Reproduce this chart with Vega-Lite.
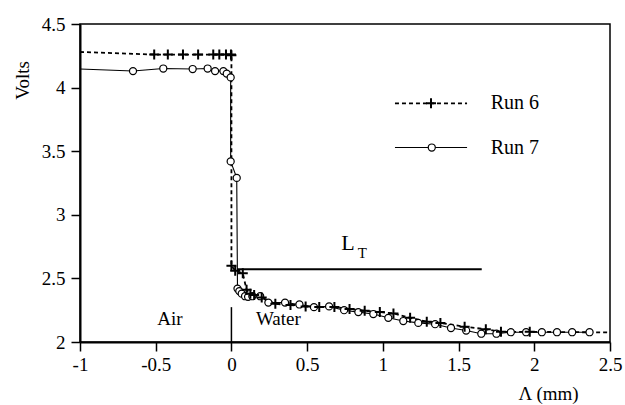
{
  "$schema": "https://vega.github.io/schema/vega-lite/v6.json",
  "autosize": "none",
  "width": 530,
  "height": 318,
  "padding": {"left": 80, "top": 24, "right": 15, "bottom": 63},
  "background": "white",
  "config": {
    "view": {"stroke": "black", "strokeWidth": 1.5},
    "font": "Times New Roman, Liberation Serif, serif",
    "axis": {"grid": false, "domainColor": "black", "domainWidth": 2, "tickColor": "black", "tickWidth": 1.5, "tickSize": 9, "labelColor": "black", "labelFont": "Times New Roman, Liberation Serif, serif", "labelFontSize": 19, "titleFont": "Times New Roman, Liberation Serif, serif", "titleFontSize": 19, "titleFontWeight": "normal", "titleColor": "black"}
  },
  "datasets": {
    "d": [
      {"run": "Run 6", "i": 0, "x": -1, "y": 4.28, "m": 0},
      {"run": "Run 6", "i": 1, "x": -0.51, "y": 4.26, "m": 1},
      {"run": "Run 6", "i": 2, "x": -0.42, "y": 4.26, "m": 1},
      {"run": "Run 6", "i": 3, "x": -0.32, "y": 4.26, "m": 1},
      {"run": "Run 6", "i": 4, "x": -0.22, "y": 4.26, "m": 1},
      {"run": "Run 6", "i": 5, "x": -0.12, "y": 4.26, "m": 1},
      {"run": "Run 6", "i": 6, "x": -0.08, "y": 4.26, "m": 1},
      {"run": "Run 6", "i": 7, "x": -0.036, "y": 4.26, "m": 1},
      {"run": "Run 6", "i": 8, "x": -0.003, "y": 4.26, "m": 1},
      {"run": "Run 6", "i": 9, "x": 0, "y": 4.255, "m": 1},
      {"run": "Run 6", "i": 10, "x": 0, "y": 2.6, "m": 1},
      {"run": "Run 6", "i": 11, "x": 0.025, "y": 2.56, "m": 1},
      {"run": "Run 6", "i": 12, "x": 0.075, "y": 2.54, "m": 1},
      {"run": "Run 6", "i": 13, "x": 0.1, "y": 2.41, "m": 1},
      {"run": "Run 6", "i": 14, "x": 0.125, "y": 2.38, "m": 1},
      {"run": "Run 6", "i": 15, "x": 0.15, "y": 2.37, "m": 1},
      {"run": "Run 6", "i": 16, "x": 0.2, "y": 2.35, "m": 1},
      {"run": "Run 6", "i": 17, "x": 0.29, "y": 2.3, "m": 1},
      {"run": "Run 6", "i": 18, "x": 0.39, "y": 2.29, "m": 1},
      {"run": "Run 6", "i": 19, "x": 0.49, "y": 2.28, "m": 1},
      {"run": "Run 6", "i": 20, "x": 0.58, "y": 2.275, "m": 1},
      {"run": "Run 6", "i": 21, "x": 0.68, "y": 2.275, "m": 1},
      {"run": "Run 6", "i": 22, "x": 0.78, "y": 2.26, "m": 1},
      {"run": "Run 6", "i": 23, "x": 0.88, "y": 2.245, "m": 1},
      {"run": "Run 6", "i": 24, "x": 0.98, "y": 2.235, "m": 1},
      {"run": "Run 6", "i": 25, "x": 1.07, "y": 2.225, "m": 1},
      {"run": "Run 6", "i": 26, "x": 1.18, "y": 2.19, "m": 1},
      {"run": "Run 6", "i": 27, "x": 1.29, "y": 2.16, "m": 1},
      {"run": "Run 6", "i": 28, "x": 1.38, "y": 2.15, "m": 1},
      {"run": "Run 6", "i": 29, "x": 1.54, "y": 2.12, "m": 1},
      {"run": "Run 6", "i": 30, "x": 1.68, "y": 2.1, "m": 1},
      {"run": "Run 6", "i": 31, "x": 1.78, "y": 2.08, "m": 1},
      {"run": "Run 6", "i": 32, "x": 1.97, "y": 2.08, "m": 1},
      {"run": "Run 6", "i": 33, "x": 2.5, "y": 2.075, "m": 0},
      {"run": "Run 7", "i": 0, "x": -1, "y": 4.146, "m": 0},
      {"run": "Run 7", "i": 1, "x": -0.65, "y": 4.13, "m": 1},
      {"run": "Run 7", "i": 2, "x": -0.45, "y": 4.15, "m": 1},
      {"run": "Run 7", "i": 3, "x": -0.256, "y": 4.146, "m": 1},
      {"run": "Run 7", "i": 4, "x": -0.157, "y": 4.15, "m": 1},
      {"run": "Run 7", "i": 5, "x": -0.108, "y": 4.13, "m": 1},
      {"run": "Run 7", "i": 6, "x": -0.053, "y": 4.13, "m": 1},
      {"run": "Run 7", "i": 7, "x": -0.031, "y": 4.11, "m": 1},
      {"run": "Run 7", "i": 8, "x": -0.005, "y": 4.08, "m": 1},
      {"run": "Run 7", "i": 9, "x": -0.005, "y": 3.42, "m": 1},
      {"run": "Run 7", "i": 10, "x": 0.035, "y": 3.29, "m": 1},
      {"run": "Run 7", "i": 11, "x": 0.04, "y": 2.42, "m": 1},
      {"run": "Run 7", "i": 12, "x": 0.052, "y": 2.4, "m": 1},
      {"run": "Run 7", "i": 13, "x": 0.068, "y": 2.38, "m": 1},
      {"run": "Run 7", "i": 14, "x": 0.09, "y": 2.36, "m": 1},
      {"run": "Run 7", "i": 15, "x": 0.11, "y": 2.355, "m": 1},
      {"run": "Run 7", "i": 16, "x": 0.138, "y": 2.36, "m": 1},
      {"run": "Run 7", "i": 17, "x": 0.19, "y": 2.36, "m": 1},
      {"run": "Run 7", "i": 18, "x": 0.244, "y": 2.31, "m": 1},
      {"run": "Run 7", "i": 19, "x": 0.354, "y": 2.31, "m": 1},
      {"run": "Run 7", "i": 20, "x": 0.449, "y": 2.295, "m": 1},
      {"run": "Run 7", "i": 21, "x": 0.545, "y": 2.274, "m": 1},
      {"run": "Run 7", "i": 22, "x": 0.645, "y": 2.28, "m": 1},
      {"run": "Run 7", "i": 23, "x": 0.744, "y": 2.25, "m": 1},
      {"run": "Run 7", "i": 24, "x": 0.838, "y": 2.235, "m": 1},
      {"run": "Run 7", "i": 25, "x": 0.937, "y": 2.22, "m": 1},
      {"run": "Run 7", "i": 26, "x": 1.036, "y": 2.19, "m": 1},
      {"run": "Run 7", "i": 27, "x": 1.135, "y": 2.165, "m": 1},
      {"run": "Run 7", "i": 28, "x": 1.234, "y": 2.15, "m": 1},
      {"run": "Run 7", "i": 29, "x": 1.345, "y": 2.14, "m": 1},
      {"run": "Run 7", "i": 30, "x": 1.45, "y": 2.11, "m": 1},
      {"run": "Run 7", "i": 31, "x": 1.55, "y": 2.09, "m": 1},
      {"run": "Run 7", "i": 32, "x": 1.65, "y": 2.065, "m": 1},
      {"run": "Run 7", "i": 33, "x": 1.75, "y": 2.065, "m": 1},
      {"run": "Run 7", "i": 34, "x": 1.845, "y": 2.077, "m": 1},
      {"run": "Run 7", "i": 35, "x": 1.946, "y": 2.077, "m": 1},
      {"run": "Run 7", "i": 36, "x": 2.05, "y": 2.077, "m": 1},
      {"run": "Run 7", "i": 37, "x": 2.15, "y": 2.077, "m": 1},
      {"run": "Run 7", "i": 38, "x": 2.25, "y": 2.077, "m": 1},
      {"run": "Run 7", "i": 39, "x": 2.365, "y": 2.077, "m": 1}
    ],
    "leg": [
      {"run": "Run 6", "x1": 1.08, "x2": 1.556, "xm": 1.318, "y": 3.876, "lx": 1.712},
      {"run": "Run 7", "x1": 1.08, "x2": 1.556, "xm": 1.323, "y": 3.529, "lx": 1.712}
    ],
    "lt": [{"x": 0.037, "x2": 1.653, "y": 2.571}],
    "aw": [{"x": 0, "y": 2, "y2": 2.274}],
    "txt": [
      {"t": "Air", "x": -0.406, "y": 2.177, "k": "c"},
      {"t": "Water", "x": 0.162, "y": 2.177, "k": "l"}
    ],
    "lbl": [
      {"t": "L", "x": 0.77, "y": 2.776, "k": "big"},
      {"t": "T", "x": 0.865, "y": 2.7, "k": "sub"}
    ]
  },
  "encoding": {
    "x": {"field": "x", "type": "quantitative", "scale": {"domain": [-1, 2.5], "nice": false, "zero": false},
      "axis": {"values": [-1, -0.5, 0, 0.5, 1, 1.5, 2, 2.5], "labelExpr": "'' + datum.value", "labelPadding": 4, "labelFlush": false, "title": "Λ (mm)", "titleX": 468, "titleY": 51, "titleBaseline": "middle", "titleAlign": "center", "titleAnchor": null}},
    "y": {"field": "y", "type": "quantitative", "scale": {"domain": [2, 4.5], "nice": false, "zero": false},
      "axis": {"values": [2, 2.5, 3, 3.5, 4, 4.5], "labelExpr": "'' + datum.value", "labelPadding": 6, "labelFlush": false, "title": "Volts", "titleAngle": -90, "titleX": -58, "titleY": 56, "titleAlign": "center", "titleBaseline": "middle"}}
  },
  "layer": [
    {
      "data": {"name": "d"},
      "transform": [{"filter": "datum.run === 'Run 6'"}],
      "mark": {"type": "line", "color": "black", "strokeWidth": 1.8, "strokeDash": [4, 3]},
      "encoding": {"order": {"field": "i", "type": "quantitative"}}
    },
    {
      "data": {"name": "d"},
      "transform": [{"filter": "datum.run === 'Run 7'"}],
      "mark": {"type": "line", "color": "black", "strokeWidth": 1.1},
      "encoding": {"order": {"field": "i", "type": "quantitative"}}
    },
    {
      "data": {"name": "d"},
      "transform": [{"filter": "datum.run === 'Run 7' && datum.m === 1"}],
      "mark": {"type": "point", "shape": "circle", "size": 50, "filled": true, "fill": "white", "stroke": "black", "strokeWidth": 1.2, "opacity": 1}
    },
    {
      "data": {"name": "d"},
      "transform": [{"filter": "datum.run === 'Run 6' && datum.m === 1"}],
      "mark": {"type": "point", "shape": "M-1,0H1M0,-1V1", "size": 100, "filled": false, "stroke": "black", "strokeWidth": 2, "opacity": 1}
    },
    {
      "data": {"name": "lt"},
      "mark": {"type": "rule", "color": "black", "strokeWidth": 2},
      "encoding": {"x2": {"field": "x2"}}
    },
    {
      "data": {"name": "aw"},
      "mark": {"type": "rule", "color": "black", "strokeWidth": 1.5},
      "encoding": {"y2": {"field": "y2"}}
    },
    {
      "data": {"name": "txt"},
      "transform": [{"filter": "datum.k === 'c'"}],
      "mark": {"type": "text", "font": "Times New Roman, Liberation Serif, serif", "fontSize": 19, "fill": "black", "align": "center", "baseline": "middle"},
      "encoding": {"text": {"field": "t"}}
    },
    {
      "data": {"name": "txt"},
      "transform": [{"filter": "datum.k === 'l'"}],
      "mark": {"type": "text", "font": "Times New Roman, Liberation Serif, serif", "fontSize": 19, "fill": "black", "align": "left", "baseline": "middle"},
      "encoding": {"text": {"field": "t"}}
    },
    {
      "data": {"name": "lbl"},
      "transform": [{"filter": "datum.k === 'big'"}],
      "mark": {"type": "text", "font": "Times New Roman, Liberation Serif, serif", "fontSize": 22, "fill": "black", "align": "center", "baseline": "middle"},
      "encoding": {"text": {"field": "t"}}
    },
    {
      "data": {"name": "lbl"},
      "transform": [{"filter": "datum.k === 'sub'"}],
      "mark": {"type": "text", "font": "Times New Roman, Liberation Serif, serif", "fontSize": 15, "fill": "black", "align": "center", "baseline": "middle"},
      "encoding": {"text": {"field": "t"}}
    },
    {
      "data": {"name": "leg"},
      "transform": [{"filter": "datum.run === 'Run 6'"}],
      "mark": {"type": "rule", "color": "black", "strokeWidth": 1.8, "strokeDash": [4, 3]},
      "encoding": {"x": {"field": "x1", "type": "quantitative"}, "x2": {"field": "x2"}}
    },
    {
      "data": {"name": "leg"},
      "transform": [{"filter": "datum.run === 'Run 7'"}],
      "mark": {"type": "rule", "color": "black", "strokeWidth": 1.1},
      "encoding": {"x": {"field": "x1", "type": "quantitative"}, "x2": {"field": "x2"}}
    },
    {
      "data": {"name": "leg"},
      "transform": [{"filter": "datum.run === 'Run 7'"}],
      "mark": {"type": "point", "shape": "circle", "size": 50, "filled": true, "fill": "white", "stroke": "black", "strokeWidth": 1.2, "opacity": 1},
      "encoding": {"x": {"field": "xm", "type": "quantitative"}}
    },
    {
      "data": {"name": "leg"},
      "transform": [{"filter": "datum.run === 'Run 6'"}],
      "mark": {"type": "point", "shape": "M-1,0H1M0,-1V1", "size": 100, "filled": false, "stroke": "black", "strokeWidth": 2, "opacity": 1},
      "encoding": {"x": {"field": "xm", "type": "quantitative"}}
    },
    {
      "data": {"name": "leg"},
      "mark": {"type": "text", "font": "Times New Roman, Liberation Serif, serif", "fontSize": 20, "fill": "black", "align": "left", "baseline": "middle"},
      "encoding": {"x": {"field": "lx", "type": "quantitative"}, "text": {"field": "run"}}
    }
  ]
}
